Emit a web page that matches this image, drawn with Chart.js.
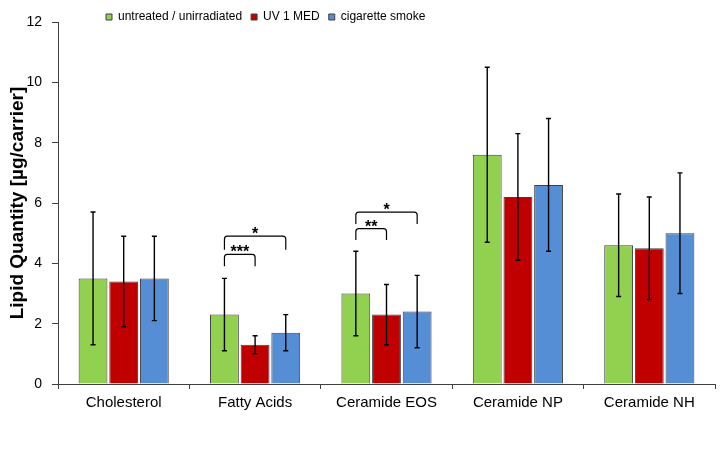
<!DOCTYPE html>
<html>
<head>
<meta charset="utf-8">
<script src="https://cdn.jsdelivr.net/npm/chart.js@4.4.1/dist/chart.umd.min.js"></script>
<style>
  html, body { margin: 0; padding: 0; background: #fff; }
</style>
</head>
<body>
<canvas id="myChart" width="720" height="465"></canvas>
<script>
// categories and series
const categories = ['Cholesterol', 'Fatty Acids', 'Ceramide EOS', 'Ceramide NP', 'Ceramide NH'];
const seriesNames = ['untreated / unirradiated', 'UV 1 MED', 'cigarette smoke'];

const untreated = [3.5, 2.3, 3.0, 7.6, 4.6];
const untreatedLow = [1.3, 1.1, 1.6, 4.7, 2.9];
const untreatedHigh = [5.7, 3.5, 4.4, 10.5, 6.3];

const uv = [3.4, 1.3, 2.3, 6.2, 4.5];
const uvLow = [1.9, 1.0, 1.3, 4.1, 2.8];
const uvHigh = [4.9, 1.6, 3.3, 8.3, 6.2];

const smoke = [3.5, 1.7, 2.4, 6.6, 5.0];
const smokeLow = [2.1, 1.1, 1.2, 4.4, 3.0];
const smokeHigh = [4.9, 2.3, 3.6, 8.8, 7.0];

const yTicks = [0, 2, 4, 6, 8, 10, 12];

// significance brackets (category index, from series, to series, top, leg end, label)
const sigCategory = [1, 1, 2, 2];
const sigFrom = [0, 0, 0, 0];
const sigTo = [1, 2, 1, 2];
const sigTop = [4.3, 4.9, 5.15, 5.7];
const sigBottom = [3.9, 4.45, 4.77, 5.3];
const sigLabel = ['***', '*', '**', '*'];

const FONT = "'Liberation Sans', Arial, sans-serif";

// error bars drawn with the y scale
const errorBars = {
    id: 'errorBars',
    afterDatasetsDraw(chart) {
        const ctx = chart.ctx;
        const y = chart.scales.y;
        ctx.save();
        ctx.strokeStyle = '#000';
        ctx.lineWidth = 1.4;
        chart.data.datasets.forEach((ds, di) => {
            chart.getDatasetMeta(di).data.forEach((bar, i) => {
                const x = bar.x;
                const yl = y.getPixelForValue(ds.errLow[i]);
                const yh = y.getPixelForValue(ds.errHigh[i]);
                ctx.beginPath();
                ctx.moveTo(x, yl); ctx.lineTo(x, yh);
                ctx.moveTo(x - 2.5, yl); ctx.lineTo(x + 2.5, yl);
                ctx.moveTo(x - 2.5, yh); ctx.lineTo(x + 2.5, yh);
                ctx.stroke();
            });
        });
        ctx.restore();
    }
};

// significance brackets
const brackets = {
    id: 'brackets',
    afterDatasetsDraw(chart) {
        const ctx = chart.ctx;
        const y = chart.scales.y;
        ctx.save();
        ctx.strokeStyle = '#000';
        ctx.lineWidth = 1.2;
        ctx.fillStyle = '#000';
        ctx.font = 'bold 16px ' + FONT;
        ctx.textAlign = 'center';
        ctx.textBaseline = 'alphabetic';
        sigLabel.forEach((lab, k) => {
            const x1 = chart.getDatasetMeta(sigFrom[k]).data[sigCategory[k]].x;
            const x2 = chart.getDatasetMeta(sigTo[k]).data[sigCategory[k]].x;
            const yt = y.getPixelForValue(sigTop[k]);
            const yb = y.getPixelForValue(sigBottom[k]);
            const r = 3;
            ctx.beginPath();
            ctx.moveTo(x1, yb);
            ctx.arcTo(x1, yt, x1 + r, yt, r);
            ctx.arcTo(x2, yt, x2, yt + r, r);
            ctx.lineTo(x2, yb);
            ctx.stroke();
            ctx.fillText(lab, (x1 + x2) / 2, yt + 3);
        });
        ctx.restore();
    }
};

// put the legend where the original has it
const legendPlace = {
    id: 'legendPlace',
    afterLayout(chart) {
        const l = chart.legend;
        const pad = l.options.labels.padding;
        const w = l.right - l.left;
        l.left = 106 - pad;
        l.right = l.left + w;
        l.top = 17 - pad - 6;
        l.bottom = l.top + 12 + 2 * pad;
    }
};

const barBorder = '#404040';

const chart = new Chart(document.getElementById('myChart').getContext('2d'), {
    type: 'bar',
    data: {
        labels: categories,
        datasets: [
            { label: seriesNames[0], data: untreated, errLow: untreatedLow, errHigh: untreatedHigh,
              backgroundColor: '#92D050', borderColor: barBorder, borderWidth: 1 },
            { label: seriesNames[1], data: uv, errLow: uvLow, errHigh: uvHigh,
              backgroundColor: '#C00000', borderColor: barBorder, borderWidth: 1 },
            { label: seriesNames[2], data: smoke, errLow: smokeLow, errHigh: smokeHigh,
              backgroundColor: '#558ED5', borderColor: barBorder, borderWidth: 1 }
        ]
    },
    options: {
        responsive: false,
        animation: false,
        categoryPercentage: 0.70,
        barPercentage: 0.94,
        layout: { padding: { left: 0, right: 5, top: 21, bottom: 48 } },
        plugins: {
            tooltip: { enabled: false },
            legend: {
                position: 'top',
                align: 'start',
                maxHeight: 1,
                labels: {
                    boxWidth: 6,
                    boxHeight: 6,
                    padding: 9,
                    color: '#000',
                    font: { family: FONT, size: 12 }
                }
            }
        },
        scales: {
            x: {
                grid: { display: true, drawOnChartArea: false, drawTicks: true, tickLength: 5, color: '#404040' },
                border: { display: true, color: '#404040', width: 1 },
                ticks: { color: '#000', padding: 5, font: { family: FONT, size: 15 } }
            },
            y: {
                min: 0,
                max: 12,
                afterBuildTicks(axis) { axis.ticks = yTicks.map(v => ({ value: v })); },
                afterFit(scale) { scale.width = 58; },
                grid: { display: true, drawOnChartArea: false, drawTicks: true, tickLength: 6, color: '#404040' },
                border: { display: true, color: '#404040', width: 1 },
                ticks: { color: '#000', padding: 10, font: { family: FONT, size: 14 } },
                title: {
                    display: true,
                    text: 'Lipid Quantity [µg/carrier]',
                    color: '#000',
                    font: { family: FONT, size: 19, weight: 'bold' },
                    padding: { top: 6, bottom: 0 }
                }
            }
        }
    },
    plugins: [errorBars, brackets, legendPlace]
});
</script>
</body>
</html>
